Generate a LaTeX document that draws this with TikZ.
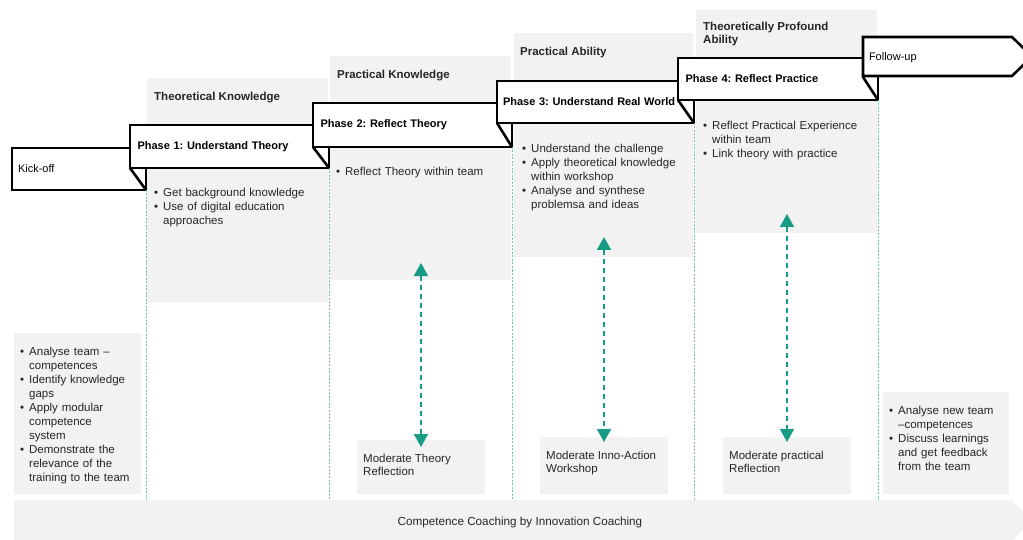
\documentclass[tikz,border=0pt]{standalone}
\usepackage{fontspec}
\setmainfont{Liberation Sans}
\usetikzlibrary{positioning}
\usetikzlibrary{arrows.meta}

\definecolor{boxgray}{RGB}{242,242,242}
\definecolor{tealdark}{RGB}{22,156,132}
\definecolor{teallight}{RGB}{105,198,186}

\newcommand{\bitem}{\par\hangindent=9pt\hangafter=1\noindent\makebox[9pt][l]{\textbullet}}
\frenchspacing

\begin{document}
\begin{tikzpicture}[x=1pt,y=-1pt,
  ribbon/.style={draw=black,line width=2.6pt,fill=white,inner xsep=7.5pt,inner ysep=0pt,
    outer sep=0pt,anchor=north west,minimum height=43pt,align=left,
    font=\bfseries\fontsize{11}{13}\selectfont},
  fold/.style={draw=black,line width=2.6pt},
  panel/.style={fill=boxgray,inner sep=0pt,outer sep=0pt,anchor=north west},
  title/.style={anchor=west,inner sep=0pt,align=left,text=black!85,
    font=\bfseries\fontsize{11.5}{13}\selectfont},
  bullets/.style={anchor=north west,inner sep=0pt,text width=#1,align=left,text=black!85,
    font=\fontsize{11.5}{14}\selectfont},
  modtext/.style={anchor=north west,inner sep=0pt,align=left,text=black!85,
    font=\fontsize{11.5}{12.5}\selectfont},
  divider/.style={teallight,line width=1pt,dash pattern=on 2pt off 1.5pt},
  dblarrow/.style={tealdark,line width=1.8pt,dash pattern=on 5pt off 4pt,
    {Triangle[width=14pt,length=13pt]}-{Triangle[width=14pt,length=13pt]}}]

  \useasboundingbox (0,0) rectangle (1023,540);
  \clip (0,0) rectangle (1023,540);

  % grey panels
  \node[panel,minimum width=181pt,minimum height=224pt] (col1) at (147,78) {};
  \node[panel,minimum width=181pt,minimum height=224pt] (col2) at (330,56) {};
  \node[panel,minimum width=179pt,minimum height=224pt] (col3) at (514,33) {};
  \node[panel,minimum width=181pt,minimum height=223pt] (col4) at (696,10) {};
  \node[panel,minimum width=127pt,minimum height=161pt] (kickbox) at (14,333) {};
  \node[panel,minimum width=126pt,minimum height=102pt] (followbox) at (883,392) {};
  \node[panel,minimum width=128pt,minimum height=54pt] (mod2) at (357,440) {};
  \node[panel,minimum width=128pt,minimum height=57pt] (mod3) at (540,437) {};
  \node[panel,minimum width=128pt,minimum height=57pt] (mod4) at (723,437) {};

  % coaching bar
  \fill[boxgray] (14,500) -- (1012,500) -- (1032,520.5) -- (1012,541) -- (14,541) -- cycle;
  \node[text=black!85,font=\fontsize{11.7}{13}\selectfont] (bar) at (520,522) {Competence Coaching by Innovation Coaching};
  \coordinate (bartop) at (0,500);

  % phases
  \node[ribbon,inner xsep=6pt,text width=122pt,minimum height=42pt,font=\fontsize{11}{13}\selectfont] (kick) at (12,148) {Kick-off};
  \node[ribbon,text width=184pt] (ph1) at (130,125) {Phase 1: Understand Theory};
  \draw[fold] (ph1.south west) -- (kick.south east);
  \node[ribbon,text width=184pt,minimum height=44pt] (ph2) at (313,103) {Phase 2: Reflect Theory};
  \draw[fold] (ph2.south west) -- (ph1.south east);
  \node[ribbon,inner xsep=6pt,text width=185pt,minimum height=42pt] (ph3) at (497,81) {Phase 3: Understand Real World};
  \draw[fold] (ph3.south west) -- (ph2.south east);
  \node[ribbon,text width=185pt,minimum height=42pt] (ph4) at (678,58) {Phase 4: Reflect Practice};
  \draw[fold] (ph4.south west) -- (ph3.south east);
  \draw[fold,fill=white] (863,37) -- (1012,37) -- (1032,56.5) -- (1012,76) -- (863,76) -- cycle;
  \node[ribbon,draw=none,fill=none,inner xsep=6pt,text width=137pt,minimum height=39pt,font=\fontsize{11}{13}\selectfont] (follow) at (863,38) {Follow-up};
  \draw[fold] (follow.south west) -- (ph4.south east);

  % dividers
  \draw[divider] (kick.south east) -- (kick.south east |- bartop);
  \draw[divider] (ph1.south east) -- (ph1.south east |- bartop);
  \draw[divider] (ph2.south east) -- (ph2.south east |- bartop);
  \draw[divider] (ph3.south east) -- (ph3.south east |- bartop);
  \draw[divider] (ph4.south east) -- (ph4.south east |- bartop);

  % panel texts
  \node[title] (t1) at (154,98) {Theoretical Knowledge};
  \node[title] (t2) at (337,76) {Practical Knowledge};
  \node[title] (t3) at (520,53) {Practical Ability};
  \node[title,anchor=north west] (t4) at (703,22) {Theoretically Profound\\Ability};

  \node[bullets=170pt] (b1) at (154,182) {\bitem Get background knowledge
    \bitem Use of digital education\newline approaches\par};
  \node[bullets=170pt] (b2) at (336,161) {\bitem Reflect Theory within team\par};
  \node[bullets=170pt] (b3) at (522,138) {\bitem Understand the challenge
    \bitem Apply theoretical knowledge\newline within workshop
    \bitem Analyse and synthese\newline problemsa and ideas\par};
  \node[bullets=170pt] (b4) at (703,115) {\bitem Reflect Practical Experience\newline within team
    \bitem Link theory with practice\par};
  \node[bullets=128pt] (b0) at (20,341) {\bitem Analyse team --\newline competences
    \bitem Identify knowledge\newline gaps
    \bitem Apply modular\newline competence\newline system
    \bitem Demonstrate the\newline relevance of the\newline training to the team\par};
  \node[bullets=128pt] (b5) at (889,400) {\bitem Analyse new team\newline --competences
    \bitem Discuss learnings\newline and get feedback\newline from the team\par};

  \node[modtext] (m2) at (363,454) {Moderate Theory\\Reflection};
  \node[modtext] (m3) at (546,451) {Moderate Inno-Action\\Workshop};
  \node[modtext] (m4) at (729,451) {Moderate practical\\Reflection};

  % reflection arrows
  \coordinate (r2) at (421,263);
  \coordinate (r3) at (604,237);
  \coordinate (r4) at (787,214);
  \draw[dblarrow] (r2) -- ([yshift=-7pt]mod2.north);
  \draw[dblarrow] (r3) -- ([yshift=-5pt]mod3.north);
  \draw[dblarrow] (r4) -- ([yshift=-5pt]mod4.north);
\end{tikzpicture}
\end{document}
